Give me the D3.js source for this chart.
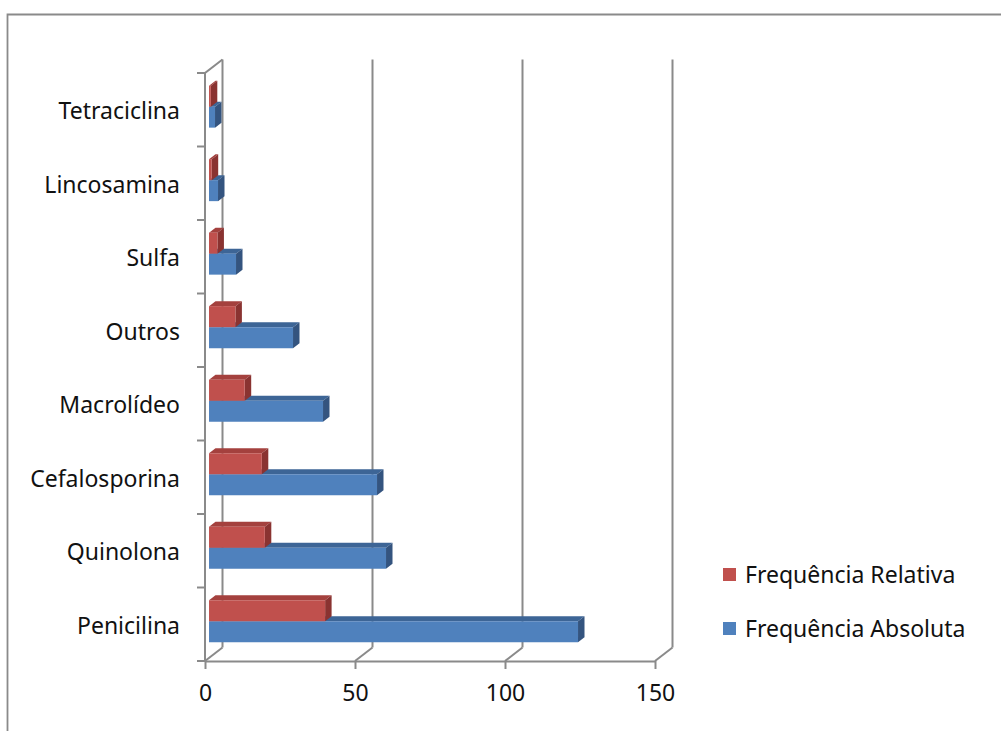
<!DOCTYPE html>
<html>
<head>
<meta charset="utf-8">
<script src="https://cdn.jsdelivr.net/npm/d3@7"></script>
<style>
  body { margin: 0; background: #fff; }
  svg { display: block; font-family: "Noto Sans", sans-serif; }
</style>
</head>
<body>
<svg width="1001" height="731"></svg>
<script>
// data, top to bottom as shown
const categories = ["Tetraciclina", "Lincosamina", "Sulfa", "Outros", "Macrolídeo", "Cefalosporina", "Quinolona", "Penicilina"];
const freqAbsoluta = [2, 3, 9, 28, 38, 56, 59, 123];
const freqRelativa = [0.6, 0.9, 2.8, 8.8, 11.9, 17.6, 18.6, 38.7];
const xTicks = [0, 50, 100, 150];
const seriesNames = ["Frequência Relativa", "Frequência Absoluta"];
const seriesColors = {
    "Frequência Relativa": { front: "#C0504D", top: "#A4413E", side: "#8A3331" },
    "Frequência Absoluta": { front: "#4F81BD", top: "#3D6596", side: "#34547F" }
};

const svg = d3.select("svg");
const gridColor = "#8a8a8a";
const fontSize = 23;

// frame round the chart
svg.append("path")
    .attr("d", "M7.5,731 L7.5,14.5 L1001,14.5")
    .attr("fill", "none")
    .attr("stroke", gridColor)
    .attr("stroke-width", 1.8);

const xScale = d3.scaleLinear().domain([0, 150]).range([205, 655]);
const yScale = d3.scaleBand().domain(categories).range([73, 661]);
const inner = d3.scaleBand().domain(seriesNames).range([0, yScale.bandwidth()]).paddingOuter(0.75);

// depth of the 3d box (0 = front, 1 = back)
const depthX = d3.scaleLinear().domain([0, 1]).range([0, 17.5]);
const depthY = d3.scaleLinear().domain([0, 1]).range([0, -13.5]);
const barFront = 0.23, barBack = 0.6;

const yTop = yScale.range()[0], yBottom = yScale.range()[1];

let walls = svg.append("g")
    .attr("fill", "none")
    .attr("stroke", gridColor)
    .attr("stroke-width", 2);

// back gridlines
walls.selectAll(".grid")
    .data(xTicks)
    .enter()
    .append("line")
    .attr("x1", d => xScale(d) + depthX(1))
    .attr("x2", d => xScale(d) + depthX(1))
    .attr("y1", yTop + depthY(1))
    .attr("y2", yBottom + depthY(1));

// floor diagonals
walls.selectAll(".diag")
    .data(xTicks)
    .enter()
    .append("line")
    .attr("x1", d => xScale(d))
    .attr("x2", d => xScale(d) + depthX(1))
    .attr("y1", yBottom)
    .attr("y2", yBottom + depthY(1));

// left wall front edge + top
walls.append("path")
    .attr("d", `M${xScale(0) + depthX(1)},${yTop + depthY(1)} L${xScale(0)},${yTop} L${xScale(0)},${yBottom}`);

// category boundary ticks
walls.selectAll(".ytick")
    .data(d3.range(categories.length + 1))
    .enter()
    .append("line")
    .attr("x1", xScale(0) - 8)
    .attr("x2", xScale(0))
    .attr("y1", i => yTop + i * yScale.step())
    .attr("y2", i => yTop + i * yScale.step());

// x axis
let xAxis = svg.append("g")
    .attr("transform", `translate(0, ${yBottom})`)
    .call(d3.axisBottom(xScale).tickValues(xTicks).tickSize(8).tickPadding(16).tickSizeOuter(0));
xAxis.select(".domain").attr("stroke", gridColor).attr("stroke-width", 2);
xAxis.selectAll(".tick line").attr("stroke", gridColor).attr("stroke-width", 2);
xAxis.selectAll("text").attr("font-size", fontSize).attr("fill", "#111").attr("font-family", "Noto Sans");

// category labels
let yAxis = svg.append("g")
    .attr("transform", `translate(${xScale(0)}, 2)`)
    .call(d3.axisLeft(yScale).tickSize(0).tickPadding(25));
yAxis.select(".domain").remove();
yAxis.selectAll("text").attr("font-size", fontSize).attr("fill", "#111").attr("font-family", "Noto Sans");

// bars
const rows = categories.map((c, i) => ({
    cat: c,
    values: [
        { name: "Frequência Absoluta", v: freqAbsoluta[i] },
        { name: "Frequência Relativa", v: freqRelativa[i] }
    ]
}));

function barFaces(cat, s) {
    const x0 = xScale(0) + depthX(barFront), x1 = xScale(s.v) + depthX(barFront);
    const y0 = yScale(cat) + inner(s.name) + depthY(barFront);
    const y1 = y0 + inner.bandwidth();
    const dx = depthX(barBack) - depthX(barFront), dy = depthY(barBack) - depthY(barFront);
    return {
        front: `M${x0},${y0}H${x1}V${y1}H${x0}Z`,
        top: `M${x0},${y0}L${x0 + dx},${y0 + dy}H${x1 + dx}L${x1},${y0}Z`,
        side: `M${x1},${y0}L${x1 + dx},${y0 + dy}V${y1 + dy}L${x1},${y1}Z`
    };
}

let barG = svg.append("g").selectAll("g")
    .data(rows)
    .enter()
    .append("g")
    .selectAll("g")
    .data(d => d.values.map(s => ({ cat: d.cat, s: s })))
    .enter()
    .append("g");

["top", "side", "front"].forEach(face => {
    barG.append("path")
        .attr("d", d => barFaces(d.cat, d.s)[face])
        .attr("fill", d => seriesColors[d.s.name][face]);
});

// legend
const legendY = d3.scaleBand().domain(seriesNames).range([547.5, 655.5]);
let legend = svg.append("g").selectAll("g")
    .data(seriesNames)
    .enter()
    .append("g")
    .attr("transform", d => `translate(723, ${legendY(d) + legendY.bandwidth() / 2})`);
legend.append("rect")
    .attr("x", 0)
    .attr("y", -6.5)
    .attr("width", 13)
    .attr("height", 13)
    .attr("fill", d => seriesColors[d].front);
legend.append("text")
    .attr("x", 22)
    .attr("dy", "0.35em")
    .attr("font-size", fontSize)
    .attr("fill", "#111")
    .text(d => d);
</script>
</body>
</html>
